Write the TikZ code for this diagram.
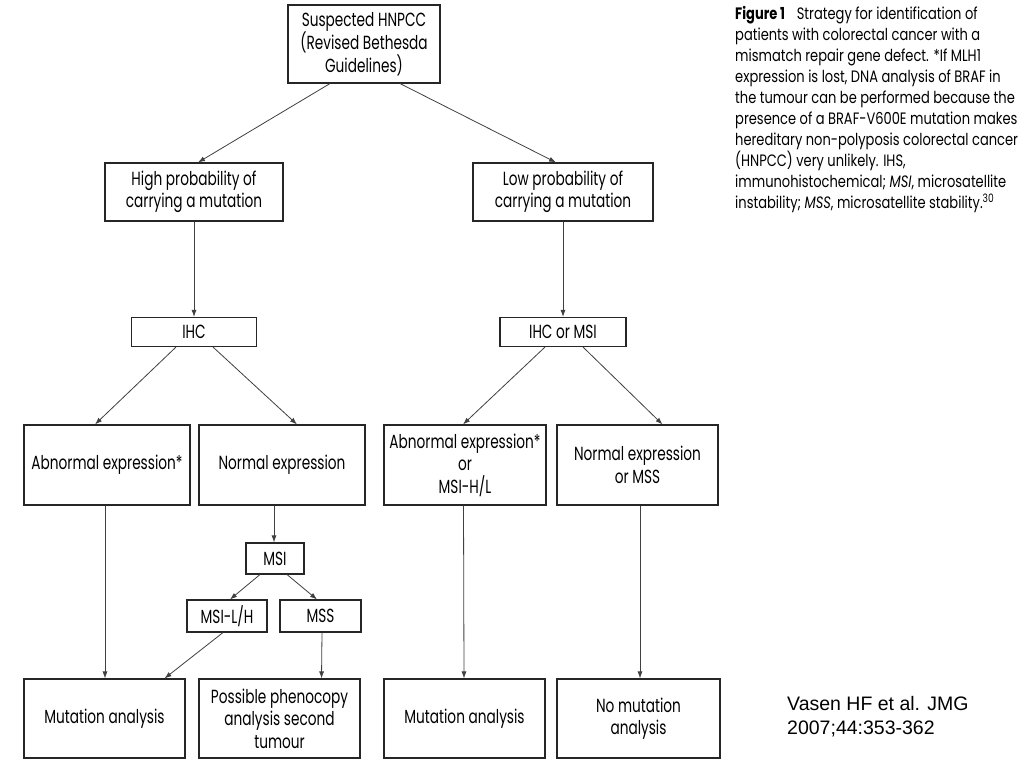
\documentclass[tikz,border=0pt]{standalone}
\usepackage{fontspec}
\setmainfont{Poppins}[FakeStretch=0.72]
\newfontfamily\capfont{Poppins}[FakeStretch=0.79]
\newfontfamily\arialfont{Liberation Sans}
\usetikzlibrary{arrows.meta}
\begin{document}
\begin{tikzpicture}[x=1pt,y=-1pt,
  box/.style={draw=black!85, line width=1.1pt, align=center, inner sep=1pt,
    font=\fontsize{19}{22.5}\selectfont},
  arr/.style={draw=black!75, line width=0.8pt, -{Latex[length=7pt,width=5pt]}}]
\useasboundingbox[fill=white] (0,0) rectangle (1024,768);
% boxes
\node[box, minimum width=152pt, minimum height=78pt] (top) at (364,44) {Suspected HNPCC\\(Revised Bethesda\\Guidelines)};
\node[box, minimum width=178pt, minimum height=58pt] (high) at (194,192) {High probability of\\carrying a mutation};
\node[box, minimum width=180pt, minimum height=58pt] (low) at (563,192) {Low probability of\\carrying a mutation};
\node[box, minimum width=125pt, minimum height=29pt] (ihc) at (194,332) {IHC};
\node[box, minimum width=126pt, minimum height=29pt] (ihcmsi) at (563,332) {IHC or MSI};
\node[box, minimum width=166pt, minimum height=80pt] (abn) at (107,465) {Abnormal expression*};
\node[box, minimum width=166pt, minimum height=80pt] (norm) at (282,465) {Normal expression};
\node[box, minimum width=162pt, minimum height=80pt] (abntwo) at (465,465) {Abnormal expression*\\or\\MSI-H/L};
\node[box, minimum width=161pt, minimum height=80pt] (normtwo) at (637.5,465) {Normal expression\\or MSS};
\node[box, minimum width=58pt, minimum height=31pt] (msi) at (275,558.5) {MSI};
\node[box, minimum width=80pt, minimum height=32pt] (msilh) at (227,616) {MSI-L/H};
\node[box, minimum width=81pt, minimum height=32pt] (mss) at (320.5,616) {MSS};
\node[box, minimum width=161pt, minimum height=79pt] (maone) at (104.5,718.5) {Mutation analysis};
\node[box, minimum width=161pt, minimum height=79pt] (pheno) at (279.5,718.5) {Possible phenocopy\\analysis second\\tumour};
\node[box, minimum width=161pt, minimum height=79pt] (matwo) at (464.5,718.5) {Mutation analysis};
\node[box, minimum width=163pt, minimum height=79pt] (noma) at (638.5,718.5) {No mutation\\analysis};
% caption
\node[anchor=north west, align=left, inner sep=0pt, font=\capfont\fontsize{16.5}{21}\selectfont] (cap) at (735,6.5)
{\textbf{Figure 1}\enspace\ Strategy for identification of\\
patients with colorectal cancer with a\\
mismatch repair gene defect. *If MLH1\\
expression is lost, DNA analysis of BRAF in\\
the tumour can be performed because the\\
presence of a BRAF-V600E mutation makes\\
hereditary non-polyposis colorectal cancer\\
(HNPCC) very unlikely. IHS,\\
immunohistochemical; \textit{MSI}, microsatellite\\
instability; \textit{MSS}, microsatellite stability.\textsuperscript{30}};
\node[anchor=north west, align=left, inner sep=0pt, font=\arialfont\fontsize{19.5}{24}\selectfont] (ref) at (787,696)
{Vasen HF et al. JMG\\2007;44:353-362};
% connectors
\draw[arr] ([xshift=-34pt]top.south) -- ([xshift=4pt]high.north);
\draw[arr] ([xshift=36pt]top.south) -- ([xshift=-7pt]low.north);
\draw[arr] (high.south) -- (ihc.north);
\draw[arr] (low.south) -- (ihcmsi.north);
\draw[arr] ([xshift=-18pt]ihc.south) -- ([xshift=-12pt]abn.north);
\draw[arr] ([xshift=19pt]ihc.south) -- ([xshift=15pt]norm.north);
\draw[arr] ([xshift=-18pt]ihcmsi.south) -- ([xshift=-2pt]abntwo.north);
\draw[arr] ([xshift=20pt]ihcmsi.south) -- ([xshift=25pt]normtwo.north);
\draw[arr] ([xshift=-2pt]abn.south) -- ([xshift=0.5pt]maone.north);
\draw[arr] ([xshift=-8pt]norm.south) -- ([xshift=-1pt]msi.north);
\draw[arr] ([xshift=-15pt]msi.south) -- ([xshift=3pt]msilh.north);
\draw[arr] ([xshift=12pt]msi.south) -- ([xshift=-3.5pt]mss.north);
\draw[arr] ([xshift=-4pt]msilh.south) -- ([xshift=60pt]maone.north);
\draw[arr] ([xshift=1.5pt]mss.south) -- ([xshift=42pt]pheno.north);
\draw[arr] ([xshift=-1.5pt]abntwo.south) -- ([xshift=-0.5pt]matwo.north);
\draw[arr] ([xshift=2.5pt]normtwo.south) -- ([xshift=1.5pt]noma.north);
\end{tikzpicture}
\end{document}
